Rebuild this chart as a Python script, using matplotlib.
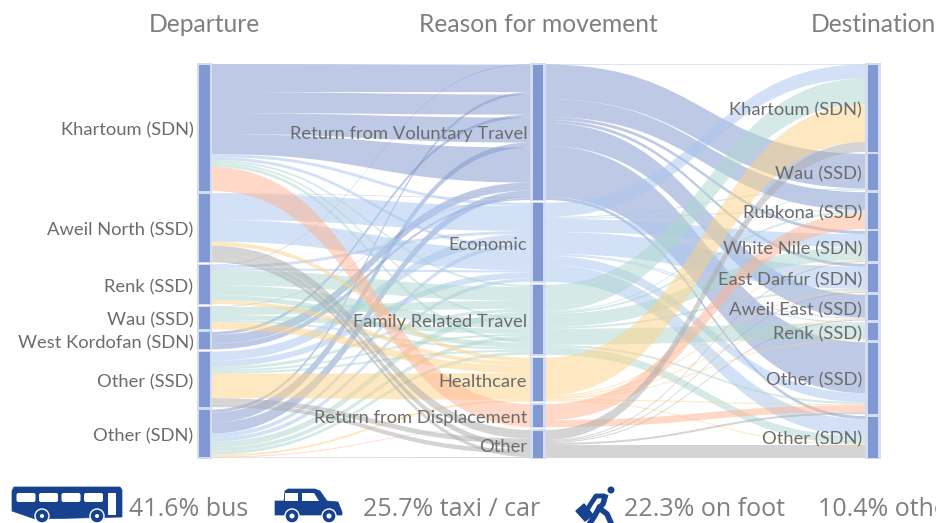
import matplotlib
matplotlib.use("Agg")
import matplotlib.pyplot as plt
from matplotlib.patches import Circle, FancyBboxPatch, PathPatch, Polygon, Rectangle
from matplotlib.path import Path

DEPARTURES = ["Khartoum (SDN)", "Aweil North (SSD)", "Renk (SSD)", "Wau (SSD)",
              "West Kordofan (SDN)", "Other (SSD)", "Other (SDN)"]
REASONS = ["Return from Voluntary Travel", "Economic", "Family Related Travel",
           "Healthcare", "Return from Displacement", "Other"]
DESTINATIONS = ["Khartoum (SDN)", "Wau (SSD)", "Rubkona (SSD)", "White Nile (SDN)",
                "East Darfur (SDN)", "Aweil East (SSD)", "Renk (SSD)", "Other (SSD)", "Other (SDN)"]

# departure -> reason, listed in the order they arrive on each reason
S1_SOURCE = [2, 0, 6, 0, 4, 0, 6, 0, 4, 6, 1, 3, 4,
             0, 1, 2, 5, 6, 0, 1, 2, 5, 6,
             0, 2, 3, 5, 6, 0, 2, 3, 5, 6, 0, 2, 3, 5, 6,
             1, 2, 3, 5, 6,
             0, 6,
             1, 5, 1, 5, 1, 6]
S1_TARGET = [0] * 13 + [1] * 10 + [2] * 15 + [3] * 5 + [4] * 2 + [5] * 6
S1_START = [0.6, 28, 3, 21, 3, 21, 10, 20, 9, 11, 0.4, 0.5, 5.5,
            3, 26, 3, 9, 4, 3, 22, 2, 6, 4,
            2, 15, 8, 3, 6, 2, 10, 5, 2, 4, 3, 4.9, 2, 2, 3,
            4, 4, 7.5, 24.5, 2,
            24, 1,
            8, 5, 5, 4, 3.6, 0.5]
S1_END = [0.6, 27.5, 2.5, 20, 3, 25, 5, 35, 8, 7, 0.4, 0.5, 1.5,
          3, 25, 3, 8.5, 4, 3, 21, 2, 6, 3.5,
          2, 14, 8, 3, 6, 2, 9, 5, 2, 4, 3, 4.9, 2, 2, 3,
          4, 4, 7.5, 26.5, 2,
          22.5, 0.5,
          8.5, 5, 5.5, 4.5, 3.5, 1]

# reason -> destination
S2_SOURCE = [0] * 8 + [1] * 9 + [2] * 8 + [3] * 7 + [4] * 2 + [5] * 6
S2_TARGET = [0, 1, 2, 3, 4, 5, 7, 8,
             0, 1, 2, 3, 4, 5, 6, 7, 8,
             0, 1, 2, 3, 4, 6, 7, 8,
             0, 3, 4, 5, 6, 7, 8,
             2, 7,
             0, 3, 4, 5, 7, 8]
S2_VALUE = [0.5, 34.5, 18, 3, 3, 23, 51, 3,
            14, 1, 1, 13, 22, 1, 1, 9, 17,
            26, 1, 2, 13, 2, 16, 2, 8,
            37.5, 1, 1, 1, 1, 1, 1,
            16, 7,
            10, 1, 1, 1, 2, 13]

REASON_COLORS = ["#7F97CD", "#A7C5ED", "#ADD7CF", "#FDD387", "#FFB391", "#ABABAB"]

MODE_SHARES = ["41.6% bus", "25.7% taxi / car", "22.3% on foot", "10.4% other"]
MODE_X = [129, 363, 624, 818]

ICON = "#17428F"
TOP, BOTTOM = 64, 458
COLS = [199, 532.7, 867.7]
NODE_W = 10.6

plt.rcParams["font.family"] = ["Lato", "DejaVu Sans"]

fig = plt.figure(figsize=(9.36, 5.23), dpi=100)
ax = fig.add_axes([0, 0, 1, 1])
ax.set_xlim(0, 936)
ax.set_ylim(523, 0)
ax.axis("off")


def totals(idx, vals, n):
    out = [0.0] * n
    for i, v in zip(idx, vals):
        out[i] += v
    return out


def layout(sizes):
    gap = (BOTTOM - TOP - sum(sizes)) / (len(sizes) - 1)
    tops = []
    y = TOP
    for s in sizes:
        tops.append(y)
        y += s + gap
    return tops


def draw_link(x0, x1, y0, w0, y1, w1, color):
    cx = (x0 + x1) / 2
    verts = [(x0, y0), (cx, y0), (cx, y1), (x1, y1), (x1, y1 + w1),
             (cx, y1 + w1), (cx, y0 + w0), (x0, y0 + w0), (x0, y0)]
    codes = [Path.MOVETO, Path.CURVE4, Path.CURVE4, Path.CURVE4, Path.LINETO,
             Path.CURVE4, Path.CURVE4, Path.CURVE4, Path.CLOSEPOLY]
    ax.add_patch(PathPatch(Path(verts, codes), fc=color, ec="none", alpha=0.5, zorder=2))


dep_sizes = totals(S1_SOURCE, S1_START, len(DEPARTURES))
reason_sizes = totals(S2_SOURCE, S2_VALUE, len(REASONS))
dest_sizes = totals(S2_TARGET, S2_VALUE, len(DESTINATIONS))
dep_tops = layout(dep_sizes)
reason_tops = layout(reason_sizes)
dest_tops = layout(dest_sizes)

# first stage, leaving each departure sorted by reason
out_y = list(dep_tops)
in_y = list(reason_tops)
start_y = [0.0] * len(S1_SOURCE)
for i in sorted(range(len(S1_SOURCE)), key=lambda k: (S1_TARGET[k], k)):
    start_y[i] = out_y[S1_SOURCE[i]]
    out_y[S1_SOURCE[i]] += S1_START[i]
for i in range(len(S1_SOURCE)):
    end = in_y[S1_TARGET[i]]
    in_y[S1_TARGET[i]] += S1_END[i]
    draw_link(COLS[0] + NODE_W + 2, COLS[1] - 2.5, start_y[i], S1_START[i], end, S1_END[i],
              REASON_COLORS[S1_TARGET[i]])

# second stage
out_y = list(reason_tops)
in_y = list(dest_tops)
for i in range(len(S2_SOURCE)):
    y0 = out_y[S2_SOURCE[i]]
    out_y[S2_SOURCE[i]] += S2_VALUE[i]
    y1 = in_y[S2_TARGET[i]]
    in_y[S2_TARGET[i]] += S2_VALUE[i]
    draw_link(COLS[1] + NODE_W + 2.5, COLS[2] - 2.5, y0, S2_VALUE[i], y1, S2_VALUE[i],
              REASON_COLORS[S2_SOURCE[i]])

# nodes and their labels
columns = [(DEPARTURES, dep_sizes, dep_tops), (REASONS, reason_sizes, reason_tops),
           (DESTINATIONS, dest_sizes, dest_tops)]
for col, (names, sizes, tops) in zip(COLS, columns):
    for name, size, top in zip(names, sizes, tops):
        ax.add_patch(Rectangle((col - 2.3, top - 1), NODE_W + 4.6, size + 2, fc="#D3DCF1", ec="none", zorder=3))
        ax.add_patch(Rectangle((col, top + 0.5), NODE_W, size - 1, fc="#8099D3", ec="none", zorder=3))
        ax.text(col - 5.5, top + size / 2 + 2.5, name, ha="right", va="center", fontsize=13.2,
                color="#6C6C6C", zorder=4)

for col, title in zip(COLS, ["Departure", "Reason for movement", "Destination"]):
    ax.text(col + NODE_W / 2, 24, title, ha="center", va="center", fontsize=17.7, color="#7F7F7F", zorder=4)

for x, label in zip(MODE_X, MODE_SHARES):
    ax.text(x, 510, label, ha="left", va="center", fontsize=18, color="#7F7F7F",
            family=["Open Sans", "DejaVu Sans"])

# bus icon
ax.add_patch(Polygon([(12, 491), (14, 487), (120, 487), (122, 490), (122, 517), (35, 519), (12, 511)],
                     fc=ICON, ec=ICON, lw=0.5, zorder=5))
for x in [16.5, 39, 61.5, 84]:
    ax.add_patch(FancyBboxPatch((x + 1, 494), 17, 7, boxstyle="round,pad=1,rounding_size=2",
                                fc="white", ec="none", zorder=6))
ax.add_patch(Rectangle((108, 493), 8, 22, fc="white", ec="none", zorder=6))
for x in [42, 97]:
    ax.add_patch(Circle((x, 516), 7, fc=ICON, ec="white", lw=1, zorder=6))
    ax.add_patch(Circle((x, 516), 2, fc="white", ec="none", zorder=7))

# car icon
ax.add_patch(Polygon([(275, 501), (284, 501), (285, 491), (288, 489), (315, 489), (320, 491), (327, 501),
                      (338, 502), (342, 512), (342, 515), (275, 515)],
                     fc=ICON, ec=ICON, lw=0.5, zorder=5))
ax.add_patch(Rectangle((285, 493), 13, 8, fc="white", ec="none", zorder=6))
ax.add_patch(Polygon([(302, 493), (314, 493), (319, 501), (302, 501)], fc="white", ec="none", zorder=6))
for x in [292, 329]:
    ax.add_patch(Circle((x, 516), 7, fc=ICON, ec="white", lw=1, zorder=6))
    ax.add_patch(Circle((x, 516), 2.5, fc="white", ec="none", zorder=7))

# walker with suitcase icon
ax.add_patch(Circle((611, 490), 3.5, fc=ICON, ec="none", zorder=5))
ax.plot([604, 596, 590, 586], [496, 496, 505, 512], color=ICON, lw=3.5, solid_capstyle="round", zorder=5)
ax.plot([605, 603, 599, 607, 611], [497, 504, 508, 514, 523], color=ICON, lw=4, zorder=5)
ax.plot([599, 594, 590], [508, 517, 523], color=ICON, lw=4, zorder=5)
ax.add_patch(Polygon([(576, 511), (584, 504), (593, 515), (585, 521)], fc=ICON, ec=ICON, lw=1, zorder=5))

fig.savefig("out.png", dpi=100)
